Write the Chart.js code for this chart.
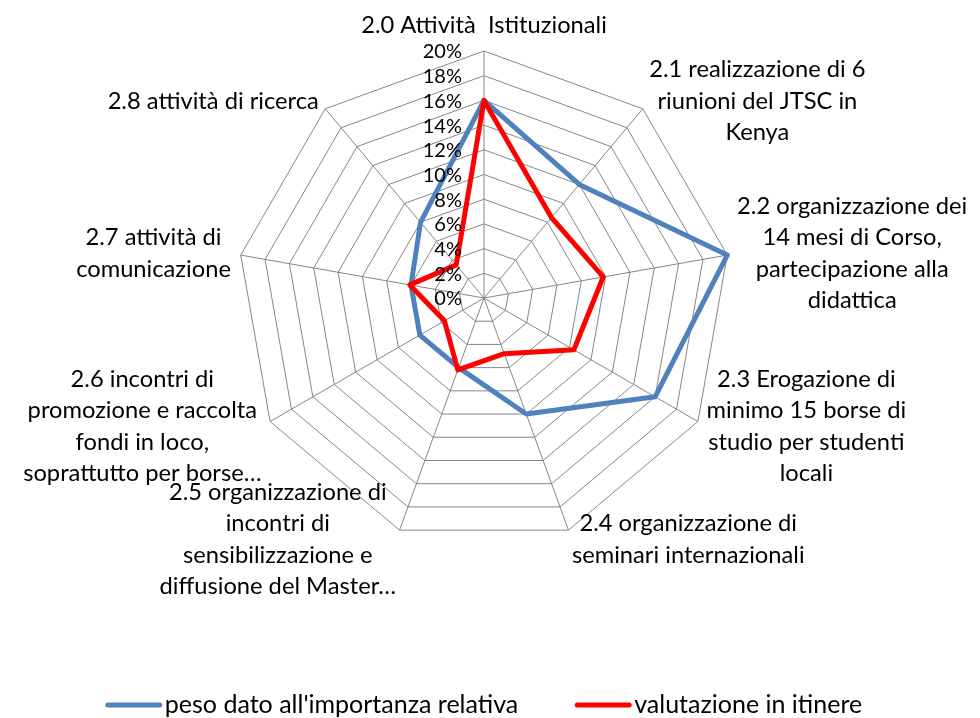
<!DOCTYPE html>
<html>
<head>
<meta charset="utf-8">
<script src="https://cdn.jsdelivr.net/npm/chart.js@4.4.1/dist/chart.umd.min.js"></script>
<style>
  html, body { margin: 0; padding: 0; background: #fff; }
  #chart { display: block; }
</style>
</head>
<body>
<canvas id="chart" width="980" height="718"></canvas>
<script>
// categories, wrapped the same way as in the original chart
const categories = [
  ["2.0 Attività  Istituzionali"],
  ["2.1 realizzazione di 6", "riunioni del JTSC in", "Kenya"],
  ["2.2 organizzazione dei", "14 mesi di Corso,", "partecipazione alla", "didattica"],
  ["2.3 Erogazione di", "minimo 15 borse di", "studio per studenti", "locali"],
  ["2.4 organizzazione di", "seminari internazionali"],
  ["2.5 organizzazione di", "incontri di", "sensibilizzazione e", "diffusione del Master…"],
  ["2.6 incontri di", "promozione e raccolta", "fondi in loco,", "soprattutto per borse…"],
  ["2.7 attività di", "comunicazione"],
  ["2.8 attività di ricerca"]
];

// values in %
const pesoImportanza = [16, 12, 20, 16, 10, 6, 6, 6, 8];
const valutazioneItinere = [16, 8.5, 9.8, 8.4, 4.8, 6.2, 3.7, 6.1, 3.5];

const tickValues = [0, 2, 4, 6, 8, 10, 12, 14, 16, 18, 20];
const seriesNames = ["peso dato all'importanza relativa", "valutazione in itinere"];

const FONT = "Lato, 'Liberation Sans', sans-serif";
const LABEL_SIZE = 23.7;
const LEGEND_SIZE = 25;
const LINE_H = 31.5;

// axis percent labels, left of the vertical spoke (like Excel)
const tickLabelsPlugin = {
  id: "tickLabels",
  afterDatasetsDraw(chart) {
    const r = chart.scales.r;
    const ctx = chart.ctx;
    ctx.save();
    ctx.font = "20px " + FONT;
    ctx.fillStyle = "#000";
    ctx.textAlign = "right";
    ctx.textBaseline = "middle";
    for (const v of tickValues) {
      const y = r.yCenter - r.getDistanceFromCenterForValue(v);
      ctx.fillText(v + "%", r.xCenter - 22, y + 1);
    }
    ctx.restore();
  }
};

// category labels, boxes set next to the spoke end, lines centred
const pointLabelsPlugin = {
  id: "pointLabelsBox",
  afterDraw(chart) {
    const r = chart.scales.r;
    const ctx = chart.ctx;
    ctx.save();
    ctx.font = LABEL_SIZE + "px " + FONT;
    ctx.fillStyle = "#000";
    ctx.textAlign = "center";
    ctx.textBaseline = "middle";
    categories.forEach((lines, i) => {
      const p = r.getPointPosition(i, r.drawingArea + 10);
      const s = Math.sin(r.getIndexAngle(i));
      const w = Math.max(...lines.map(t => ctx.measureText(t).width));
      const h = lines.length * LINE_H;
      let cx, top;
      if (Math.abs(s) < 0.01) {
        cx = p.x;
        top = p.y - h;
      } else if (s > 0) {
        cx = p.x + w / 2;
        top = p.y - h / 2;
      } else {
        cx = p.x - w / 2;
        top = p.y - h / 2;
      }
      lines.forEach((t, k) => ctx.fillText(t, cx, top + LINE_H * (k + 0.5)));
    });
    ctx.restore();
  }
};

// legend with line samples, centred under the plot
const lineLegendPlugin = {
  id: "lineLegend",
  afterDraw(chart) {
    const ctx = chart.ctx;
    const r = chart.scales.r;
    const y = 705;
    const sample = 56, gapText = 3, gapItem = 57;
    ctx.save();
    ctx.font = LEGEND_SIZE + "px " + FONT;
    const widths = seriesNames.map(t => ctx.measureText(t).width);
    let total = 0;
    widths.forEach((w, i) => { total += sample + gapText + w + (i ? gapItem : 0); });
    let x = r.xCenter - total / 2;
    chart.data.datasets.forEach((ds, i) => {
      ctx.strokeStyle = ds.borderColor;
      ctx.lineWidth = 5;
      ctx.lineCap = "round";
      ctx.beginPath();
      ctx.moveTo(x + 2, y);
      ctx.lineTo(x + sample - 2, y);
      ctx.stroke();
      x += sample + gapText;
      ctx.fillStyle = "#000";
      ctx.textAlign = "left";
      ctx.textBaseline = "middle";
      ctx.fillText(ds.label, x, y);
      x += widths[i] + gapItem;
    });
    ctx.restore();
  }
};

new Chart(document.getElementById("chart"), {
  type: "radar",
  data: {
    labels: categories,
    datasets: [
      {
        label: seriesNames[0],
        data: pesoImportanza,
        borderColor: "#4F81BD",
        backgroundColor: "transparent",
        borderWidth: 5,
        borderJoinStyle: "round",
        pointRadius: 0,
        fill: false,
        order: 1
      },
      {
        label: seriesNames[1],
        data: valutazioneItinere,
        borderColor: "#FF0000",
        backgroundColor: "transparent",
        borderWidth: 5,
        borderJoinStyle: "round",
        pointRadius: 0,
        fill: false,
        order: 0
      }
    ]
  },
  options: {
    responsive: false,
    animation: false,
    layout: { padding: { top: 51, bottom: 172, left: 0, right: 12 } },
    plugins: {
      legend: { display: false },
      tooltip: { enabled: false }
    },
    scales: {
      r: {
        min: 0,
        max: 20,
        ticks: { stepSize: 2, display: false },
        grid: { color: "#868686", lineWidth: 1, circular: false },
        angleLines: { color: "#868686", lineWidth: 1 },
        pointLabels: { display: false }
      }
    }
  },
  plugins: [tickLabelsPlugin, pointLabelsPlugin, lineLegendPlugin]
});
</script>
</body>
</html>
